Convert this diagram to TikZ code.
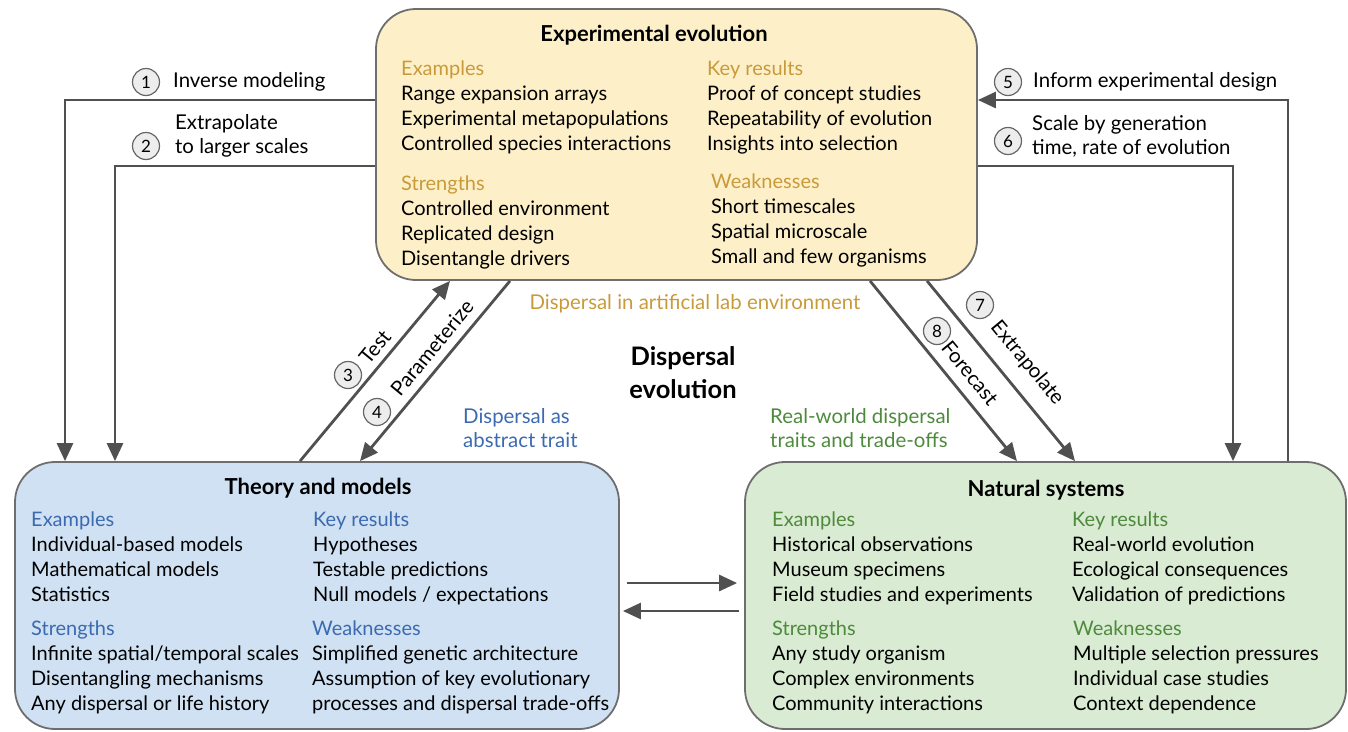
\documentclass[tikz,border=0pt]{standalone}
\usepackage{fontspec}
\setmainfont{Lato}
\usetikzlibrary{arrows.meta}
\definecolor{topfill}{HTML}{FDF0C9}
\definecolor{leftfill}{HTML}{CFE1F2}
\definecolor{rightfill}{HTML}{D9EBD2}
\definecolor{boxline}{HTML}{6E6E6E}
\definecolor{arrowgray}{HTML}{505050}
\definecolor{numfill}{HTML}{EDEDED}
\definecolor{numline}{HTML}{666666}
\definecolor{gold}{HTML}{C99A3A}
\definecolor{blueh}{HTML}{3B6AB0}
\definecolor{greenh}{HTML}{4E8A3C}
\begin{document}
\begin{tikzpicture}[x=1pt,y=-1pt,
 box/.style={draw=boxline, line width=1.8pt, rounded corners=40pt, inner sep=0pt},
 body/.style={font=\fontsize{20}{25}\selectfont, anchor=north west, inner sep=0pt, align=left, text=black},
 ttl/.style={font=\fontsize{22}{26}\selectfont\bfseries, inner sep=0pt},
 conn/.style={draw=arrowgray, line width=2.8pt, -{Triangle[length=18pt,width=16pt]}},
 num/.style={circle, draw=numline, fill=numfill, line width=1.2pt, minimum size=27pt, inner sep=0pt, font=\fontsize{17}{17}\selectfont},
 lbl/.style={font=\fontsize{20.4}{24}\selectfont, inner sep=0pt, align=left}
]
\useasboundingbox (0,0) rectangle (1348,731);
% boxes
\node[box, fill=topfill, minimum width=601pt, minimum height=271pt] (top) at (676.5,144.5) {};
\node[box, fill=leftfill, minimum width=604pt, minimum height=267pt] (left) at (317,595.5) {};
\node[box, fill=rightfill, minimum width=601pt, minimum height=267pt] (right) at (1045.5,595.5) {};
% connectors
\draw[conn] (top.west |- 0,100) -| (left.north -| 65,0);
\draw[conn] (top.west |- 0,166) -| (left.north -| 115,0);
\draw[conn] (right.north -| 1288,0) |- (top.east |- 0,100);
\draw[conn] (top.east |- 0,166) -| (right.north -| 1233,0);
\draw[conn] (left.north -| 300,0) -- (top.south -| 450,0);
\draw[conn] (top.south -| 510,0) -- (left.north -| 360,0);
\draw[conn] (top.south -| 870,0) -- (right.north -| 1017,0);
\draw[conn] (top.south -| 927,0) -- (right.north -| 1075,0);
\draw[conn] ([xshift=7pt]left.east |- 0,583) -- ([xshift=-7pt]right.west |- 0,583);
\draw[conn] ([xshift=-5pt]right.west |- 0,611) -- ([xshift=3pt]left.east |- 0,611);
% number circles
\node[num] (n1) at (146,82) {1};
\node[num] (n2) at (146,146) {2};
\node[num] (n3) at (348,375) {3};
\node[num] (n4) at (377,412) {4};
\node[num] (n5) at (1008,82) {5};
\node[num] (n6) at (1008,141) {6};
\node[num] (n7) at (980,305) {7};
\node[num] (n8) at (937,331) {8};
% connector labels
\node[lbl, anchor=west] (l1) at (173,82) {Inverse modeling};
\node[lbl, anchor=west] (l2) at (175,136) {Extrapolate\\to larger scales};
\node[lbl, anchor=west] (l5) at (1033,82) {Inform experimental design};
\node[lbl, anchor=west] (l6) at (1032,136) {Scale by generation\\time, rate of evolution};
\node[lbl, rotate=50.5] (l3) at (375,347) {Test};
\node[lbl, rotate=50.5] (l4) at (432,348) {Parameterize};
\node[lbl, rotate=-50.5] (l8) at (970,373) {Forecast};
\node[lbl, rotate=-50.5] (l7) at (1027,363) {Extrapolate};
% centre texts
\node[font=\fontsize{25.5}{33}\selectfont\bfseries, align=center, inner sep=0pt] (mid) at (683,373) {Dispersal\\evolution};
\node[lbl, text=gold] (lab) at (695,304) {Dispersal in artificial lab environment};
\node[lbl, text=blueh, anchor=west] (abs) at (463,428) {Dispersal as\\abstract trait};
\node[lbl, text=greenh, anchor=west] (rw) at (770,428) {Real-world dispersal\\traits and trade-offs};
% top box
\node[ttl] (ttop) at (654,35) {Experimental evolution};
\node[body] (t1) at (401,61) {\textcolor{gold}{Examples}\\Range expansion arrays\\Experimental metapopulations\\Controlled species interactions};
\node[body] (t2) at (401,176) {\textcolor{gold}{Strengths}\\Controlled environment\\Replicated design\\Disentangle drivers};
\node[body] (t3) at (707,61) {\textcolor{gold}{Key results}\\Proof of concept studies\\Repeatability of evolution\\Insights into selection};
\node[body] (t4) at (711,174) {\textcolor{gold}{Weaknesses}\\Short timescales\\Spatial microscale\\Small and few organisms};
% left box
\node[ttl] (tleft) at (318,488) {Theory and models};
\node[body] (a1) at (31,512) {\textcolor{blueh}{Examples}\\Individual-based models\\Mathematical models\\Statistics};
\node[body] (a2) at (31,621) {\textcolor{blueh}{Strengths}\\Infinite spatial/temporal scales\\Disentangling mechanisms\\Any dispersal or life history};
\node[body] (a3) at (313,512) {\textcolor{blueh}{Key results}\\Hypotheses\\Testable predictions\\Null models / expectations};
\node[body] (a4) at (312,621) {\textcolor{blueh}{Weaknesses}\\Simplified genetic architecture\\Assumption of key evolutionary\\processes and dispersal trade-offs};
% right box
\node[ttl] (tright) at (1046,490) {Natural systems};
\node[body] (b1) at (772,512) {\textcolor{greenh}{Examples}\\Historical observations\\Museum specimens\\Field studies and experiments};
\node[body] (b2) at (772,621) {\textcolor{greenh}{Strengths}\\Any study organism\\Complex environments\\Community interactions};
\node[body] (b3) at (1072,512) {\textcolor{greenh}{Key results}\\Real-world evolution\\Ecological consequences\\Validation of predictions};
\node[body] (b4) at (1073,621) {\textcolor{greenh}{Weaknesses}\\Multiple selection pressures\\Individual case studies\\Context dependence};
\end{tikzpicture}
\end{document}
